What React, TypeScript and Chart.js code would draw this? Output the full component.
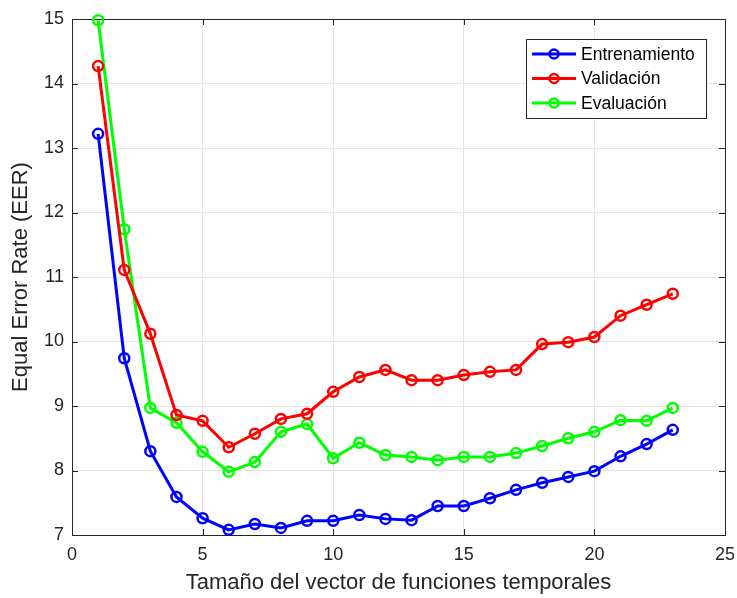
import React, { useEffect, useRef } from "react";
import { Chart, registerables } from "chart.js";

Chart.register(...registerables);

const xValues = [1, 2, 3, 4, 5, 6, 7, 8, 9, 10, 11, 12, 13, 14, 15, 16, 17, 18, 19, 20, 21, 22, 23];
const entrenamiento = [13.22, 9.74, 8.30, 7.59, 7.26, 7.08, 7.17, 7.11, 7.22, 7.22, 7.31, 7.25, 7.23, 7.45, 7.45, 7.57, 7.70, 7.81, 7.90, 7.99, 8.22, 8.41, 8.63];
const validacion = [14.27, 11.11, 10.12, 8.86, 8.77, 8.36, 8.57, 8.80, 8.88, 9.22, 9.45, 9.56, 9.40, 9.40, 9.48, 9.53, 9.56, 9.96, 9.99, 10.07, 10.40, 10.57, 10.74];
const evaluacion = [14.98, 11.74, 8.97, 8.74, 8.29, 7.98, 8.13, 8.60, 8.72, 8.19, 8.43, 8.24, 8.21, 8.16, 8.21, 8.21, 8.27, 8.38, 8.50, 8.60, 8.78, 8.77, 8.97];
const seriesNames = ["Entrenamiento", "Validación", "Evaluación"];
const seriesColors = ["#0000ff", "#ff0000", "#00ff00"];
const xTitle = "Tamaño del vector de funciones temporales";
const yTitle = "Equal Error Rate (EER)";

const FONT = "'Liberation Sans', Arial, Helvetica, sans-serif";
const AXIS_COLOR = "#262626";

const boxPlugin = {
  id: "matlabBox",
  beforeDatasetsDraw(chart: any) {
    const { ctx, chartArea: a, scales } = chart;
    ctx.save();
    ctx.strokeStyle = AXIS_COLOR;
    ctx.lineWidth = 1;
    ctx.strokeRect(Math.round(a.left) + 0.5, Math.round(a.top) + 0.5, Math.round(a.right - a.left), Math.round(a.bottom - a.top));
    const tl = 6;
    ctx.beginPath();
    scales.x.ticks.forEach((t: any) => {
      const px = Math.round(scales.x.getPixelForValue(t.value)) + 0.5;
      ctx.moveTo(px, a.bottom);
      ctx.lineTo(px, a.bottom - tl);
      ctx.moveTo(px, a.top);
      ctx.lineTo(px, a.top + tl);
    });
    scales.y.ticks.forEach((t: any) => {
      const py = Math.round(scales.y.getPixelForValue(t.value)) + 0.5;
      ctx.moveTo(a.left, py);
      ctx.lineTo(a.left + tl, py);
      ctx.moveTo(a.right, py);
      ctx.lineTo(a.right - tl, py);
    });
    ctx.stroke();
    ctx.restore();
  },
};

const legendPlugin = {
  id: "matlabLegend",
  afterDraw(chart: any) {
    const { ctx } = chart;
    const x0 = 526, y0 = 39, w = 180, h = 79;
    ctx.save();
    ctx.fillStyle = "#ffffff";
    ctx.fillRect(x0, y0, w, h);
    ctx.strokeStyle = AXIS_COLOR;
    ctx.lineWidth = 1;
    ctx.strokeRect(x0 + 0.5, y0 + 0.5, w, h);
    ctx.font = `17.5px ${FONT}`;
    ctx.textBaseline = "middle";
    seriesNames.forEach((name, i) => {
      const cy = y0 + 15 + i * 24.5;
      ctx.strokeStyle = seriesColors[i];
      ctx.lineWidth = 3;
      ctx.beginPath();
      ctx.moveTo(532, cy);
      ctx.lineTo(576, cy);
      ctx.stroke();
      ctx.lineWidth = 2.5;
      ctx.beginPath();
      ctx.arc(554, cy, 4.5, 0, Math.PI * 2);
      ctx.stroke();
      ctx.fillStyle = "#000000";
      ctx.fillText(name, 581, cy + 1);
    });
    ctx.restore();
  },
};

export default function App() {
  const ref = useRef<HTMLCanvasElement | null>(null);
  useEffect(() => {
    document.body.style.margin = "0";
    const mk = (data: number[], i: number) => ({
      label: seriesNames[i],
      data: xValues.map((x, j) => ({ x, y: data[j] })),
      borderColor: seriesColors[i],
      backgroundColor: "rgba(0,0,0,0)",
      pointBackgroundColor: "rgba(0,0,0,0)",
      pointBorderColor: seriesColors[i],
      pointRadius: 5,
      pointBorderWidth: 2.5,
      borderWidth: 3,
      tension: 0,
      clip: false as any,
    });
    const chart = new Chart(ref.current as HTMLCanvasElement, {
      type: "line",
      data: {
        datasets: [mk(entrenamiento, 0), mk(validacion, 1), mk(evaluacion, 2)],
      },
      options: {
        animation: false,
        responsive: false,
        maintainAspectRatio: false,
        layout: { padding: { top: 19, right: 12, left: 0, bottom: 0 } },
        plugins: { legend: { display: false }, tooltip: { enabled: false } },
        scales: {
          x: {
            type: "linear",
            min: 0,
            max: 25,
            ticks: { stepSize: 5, color: AXIS_COLOR, font: { family: FONT, size: 18 }, padding: 9, maxRotation: 0 },
            grid: { color: "#e3e3e3", drawTicks: false },
            border: { display: false },
            title: { display: true, text: xTitle, color: AXIS_COLOR, font: { family: FONT, size: 22 }, padding: { top: 0, bottom: 2 } },
            afterFit: (s: any) => { s.height = 63; s.paddingLeft = 0; s.paddingRight = 0; },
          },
          y: {
            type: "linear",
            min: 7,
            max: 15,
            ticks: { stepSize: 1, color: AXIS_COLOR, font: { family: FONT, size: 18 }, padding: 8 },
            grid: { color: "#e3e3e3", drawTicks: false },
            border: { display: false },
            title: { display: true, text: yTitle, color: AXIS_COLOR, font: { family: FONT, size: 22 }, padding: { top: 8, bottom: 0 } },
            afterFit: (s: any) => { s.width = 72; s.paddingTop = 0; s.paddingBottom = 0; },
          },
        },
      },
      plugins: [boxPlugin, legendPlugin],
    });
    return () => chart.destroy();
  }, []);
  return (
    <div style={{ width: 737, height: 598 }}>
      <canvas ref={ref} width={737} height={598} style={{ display: "block", width: 737, height: 598 }} />
    </div>
  );
}
